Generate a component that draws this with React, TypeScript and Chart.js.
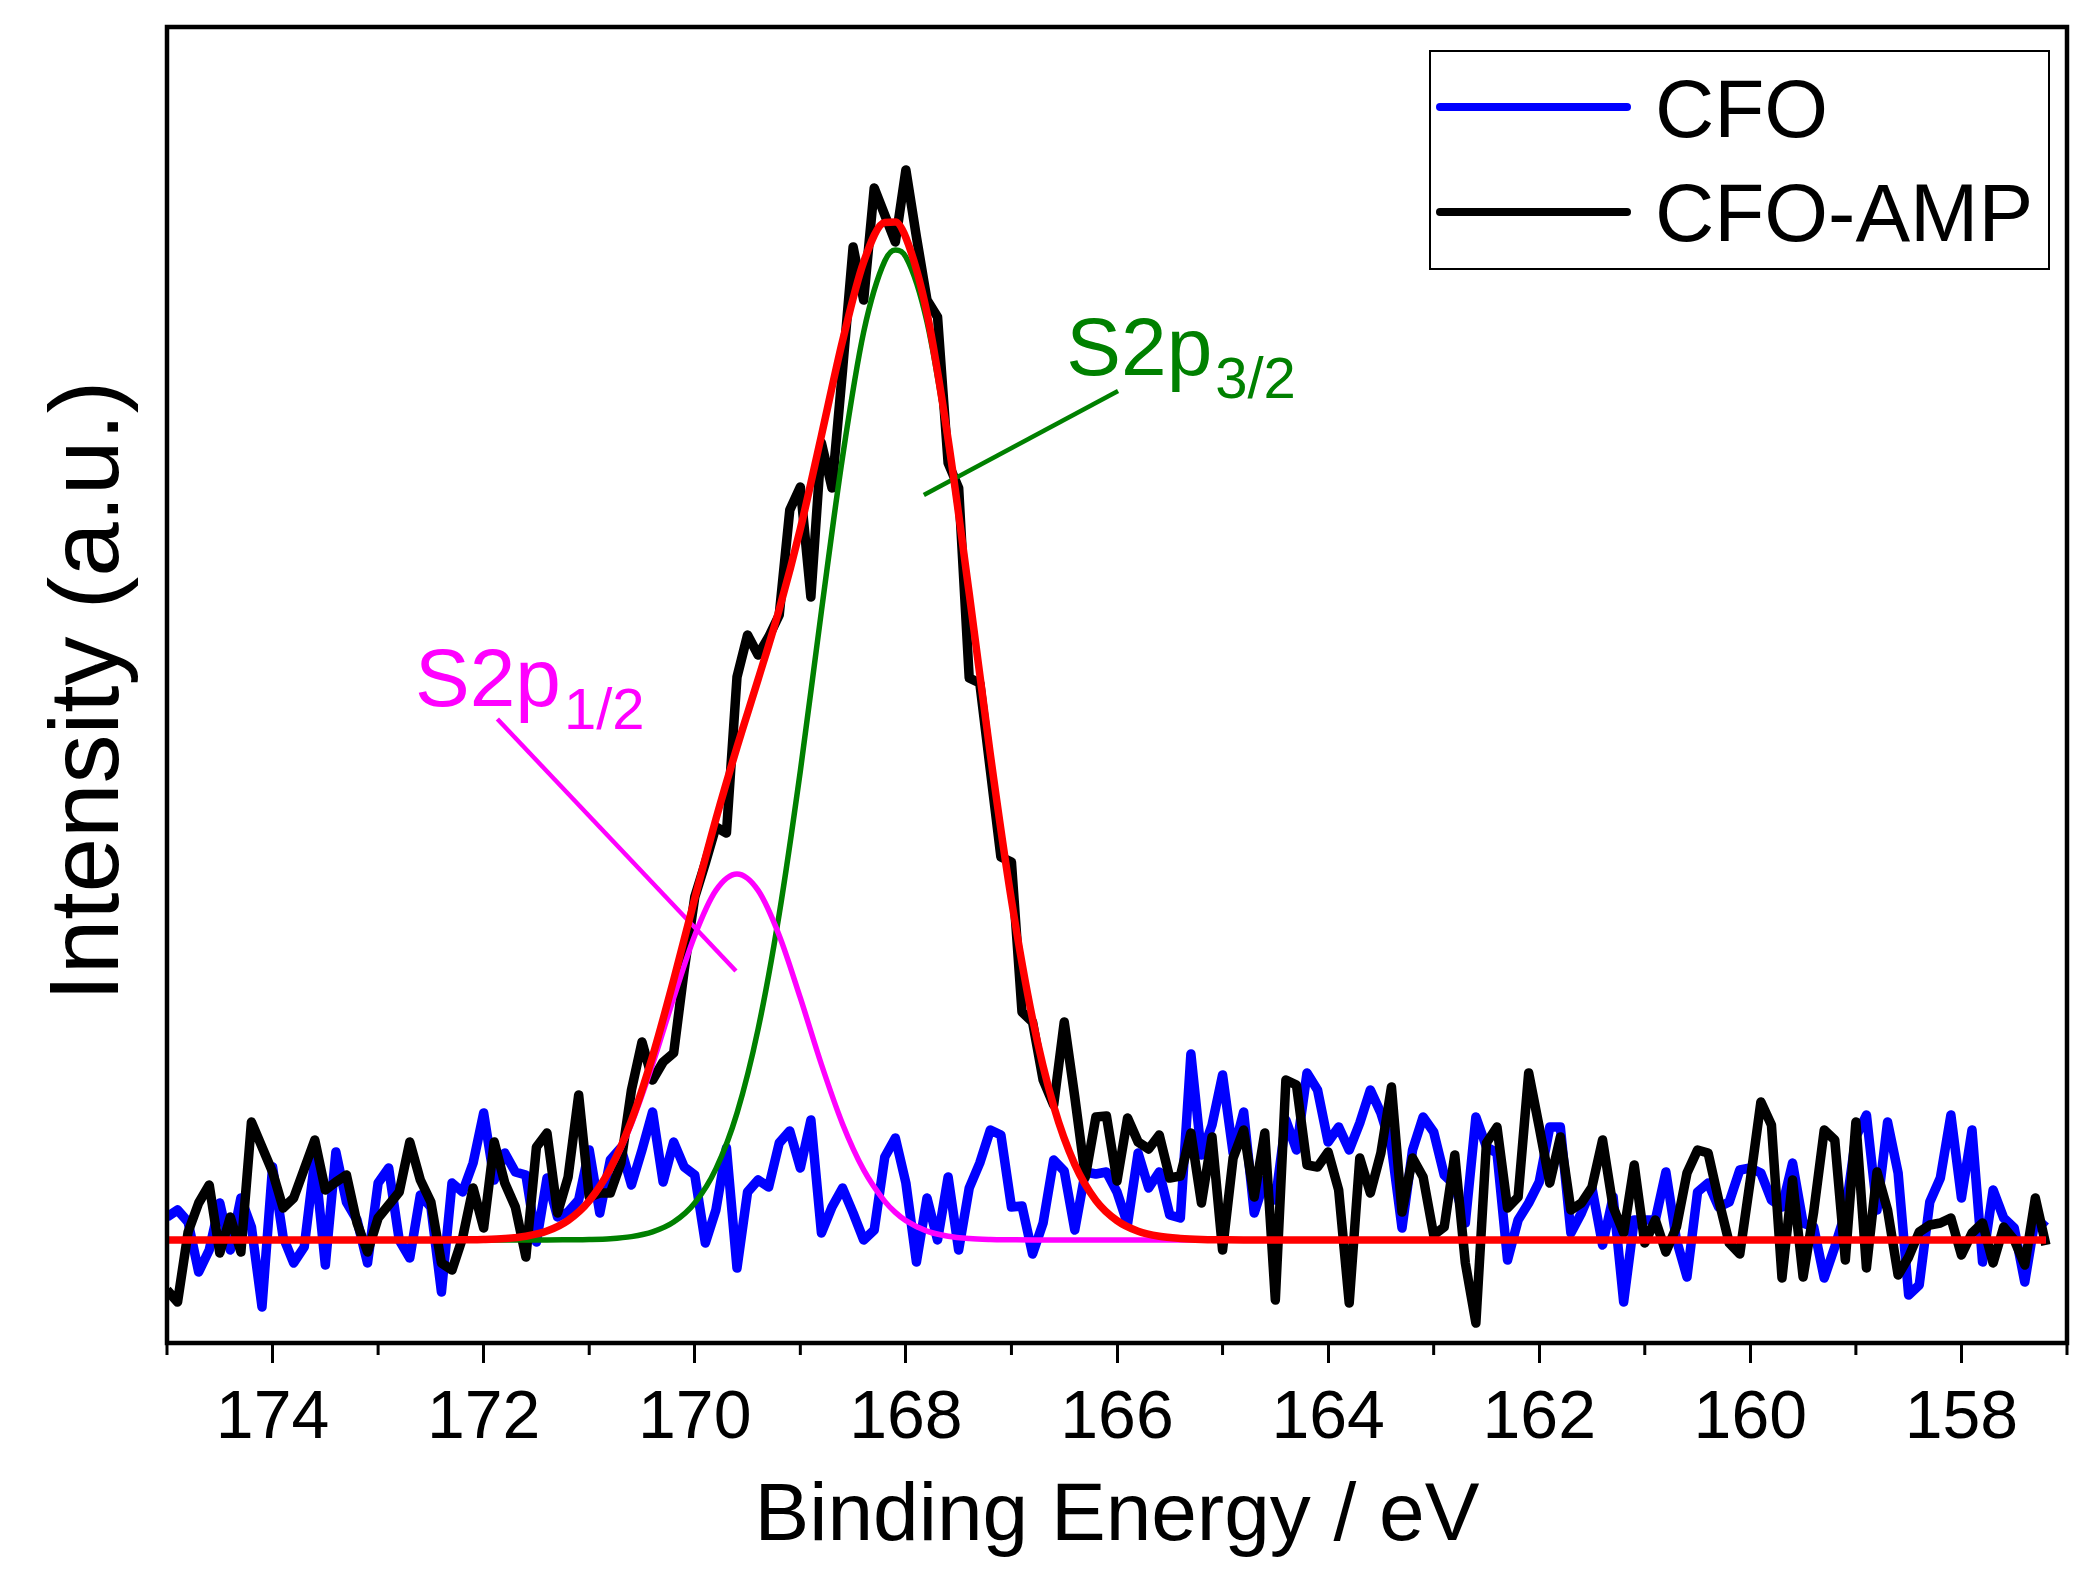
import React, { useEffect, useRef } from "react";
import { Chart, registerables } from "chart.js";

Chart.register(...registerables);

const FONT = 'Arial, "Liberation Sans", Helvetica, sans-serif';

// Binding energy grid of the measured spectra (eV)
const bindingEnergy = [
  175.0, 174.9, 174.8, 174.7, 174.6, 174.5, 174.4, 174.3, 174.2, 174.1,
  174.0, 173.9, 173.8, 173.7, 173.6, 173.5, 173.4, 173.3, 173.2, 173.1,
  173.0, 172.9, 172.8, 172.7, 172.6, 172.5, 172.4, 172.3, 172.2, 172.1,
  172.0, 171.9, 171.8, 171.7, 171.6, 171.5, 171.4, 171.3, 171.2, 171.1,
  171.0, 170.9, 170.8, 170.7, 170.6, 170.5, 170.4, 170.3, 170.2, 170.1,
  170.0, 169.9, 169.8, 169.7, 169.6, 169.5, 169.4, 169.3, 169.2, 169.1,
  169.0, 168.9, 168.8, 168.7, 168.6, 168.5, 168.4, 168.3, 168.2, 168.1,
  168.0, 167.9, 167.8, 167.7, 167.6, 167.5, 167.4, 167.3, 167.2, 167.1,
  167.0, 166.9, 166.8, 166.7, 166.6, 166.5, 166.4, 166.3, 166.2, 166.1,
  166.0, 165.9, 165.8, 165.7, 165.6, 165.5, 165.4, 165.3, 165.2, 165.1,
  165.0, 164.9, 164.8, 164.7, 164.6, 164.5, 164.4, 164.3, 164.2, 164.1,
  164.0, 163.9, 163.8, 163.7, 163.6, 163.5, 163.4, 163.3, 163.2, 163.1,
  163.0, 162.9, 162.8, 162.7, 162.6, 162.5, 162.4, 162.3, 162.2, 162.1,
  162.0, 161.9, 161.8, 161.7, 161.6, 161.5, 161.4, 161.3, 161.2, 161.1,
  161.0, 160.9, 160.8, 160.7, 160.6, 160.5, 160.4, 160.3, 160.2, 160.1,
  160.0, 159.9, 159.8, 159.7, 159.6, 159.5, 159.4, 159.3, 159.2, 159.1,
  159.0, 158.9, 158.8, 158.7, 158.6, 158.5, 158.4, 158.3, 158.2, 158.1,
  158.0, 157.9, 157.8, 157.7, 157.6, 157.5, 157.4, 157.3, 157.2,
];

// CFO (blue) intensity, a.u.
const cfo = [
  2.3, 3.0, 1.8, -3.2, -1.0, 3.7, -1.0, 4.2, 1.3, -6.7,
  7.3, 0.3, -2.3, -0.7, 8.0, -2.5, 8.8, 3.8, 2.0, -2.3,
  5.7, 7.2, 0.0, -1.8, 4.5, 3.3, -5.2, 5.7, 4.8, 7.7,
  12.7, 6.0, 8.7, 6.8, 6.5, -0.2, 6.2, 2.3, 2.8, 4.0,
  9.0, 2.7, 8.0, 9.2, 5.5, 9.0, 12.8, 5.8, 9.8, 7.3,
  6.5, -0.3, 3.0, 9.2, -2.8, 4.8, 6.0, 5.3, 9.7, 10.9,
  7.2, 12.0, 0.7, 3.3, 5.2, 2.7, 0.0, 1.0, 8.3, 10.2,
  5.7, -2.2, 4.2, 0.0, 6.3, -1.0, 5.2, 7.7, 11.0, 10.5,
  3.3, 3.4, -1.4, 1.7, 8.0, 6.9, 1.0, 6.8, 6.6, 6.8,
  4.8, 1.6, 8.7, 5.2, 6.8, 2.5, 2.2, 18.6, 8.5, 11.5,
  16.5, 8.7, 12.8, 2.7, 6.0, 4.0, 12.0, 9.0, 16.7, 15.0,
  9.8, 11.3, 9.0, 11.7, 15.0, 12.7, 9.3, 1.2, 9.0, 12.3,
  10.8, 6.5, 5.5, 1.7, 12.3, 9.3, 8.7, -2.0, 2.0, 3.7,
  5.8, 11.3, 11.3, 0.7, 2.7, 5.2, -0.5, 4.3, -6.2, 2.0,
  2.0, 2.0, 6.8, 0.0, -3.7, 4.8, 5.7, 3.3, 3.8, 7.0,
  7.2, 6.7, 4.0, 3.3, 7.7, 1.7, 1.3, -3.8, -0.7, 2.7,
  10.3, 12.5, 3.0, 11.8, 6.7, -5.5, -4.5, 3.8, 6.2, 12.5,
  4.2, 11.0, -2.2, 5.0, 2.2, 1.2, -4.2, 2.2, 1.3,
];

// CFO-AMP (black) intensity, a.u.
const cfoAmp = [
  -5.0, -6.2, 0.8, 3.7, 5.5, -1.3, 2.3, -1.2, 11.8, 9.3,
  6.8, 3.2, 4.2, 7.1, 10.0, 5.0, 5.8, 6.5, 1.7, -1.2,
  2.2, 3.5, 4.8, 9.8, 6.0, 3.8, -2.3, -3.0, 0.2, 5.2,
  1.2, 9.8, 5.7, 3.3, -1.7, 9.3, 10.7, 2.7, 6.3, 14.5,
  4.3, 4.7, 4.7, 7.7, 15.0, 19.8, 16.0, 17.8, 18.7, 27.0,
  34.3, 37.7, 41.3, 40.7, 56.3, 60.5, 58.5, 60.3, 62.5, 73.0,
  75.3, 64.3, 79.7, 75.2, 87.0, 99.3, 94.0, 105.2, 102.5, 99.8,
  107.0, 100.3, 94.0, 92.3, 77.7, 75.2, 56.2, 55.7, 47.0, 38.3,
  37.8, 22.8, 21.8, 16.0, 13.5, 21.8, 14.3, 6.3, 12.3, 12.4,
  5.9, 12.2, 9.8, 9.1, 10.5, 6.2, 6.4, 10.7, 3.7, 10.3,
  -1.0, 8.2, 11.0, 4.3, 10.7, -6.0, 16.0, 15.5, 7.5, 7.3,
  8.8, 5.0, -6.3, 8.2, 4.7, 8.7, 15.3, 2.8, 8.2, 6.3,
  0.5, 1.3, 8.5, -2.3, -8.3, 9.7, 11.3, 3.2, 4.3, 16.7,
  11.3, 5.7, 10.3, 3.0, 3.7, 5.3, 10.0, 3.3, 0.7, 7.5,
  -0.3, 2.0, -1.2, 1.3, 6.7, 9.0, 8.7, 4.0, -0.3, -1.4,
  6.0, 13.8, 11.5, -3.8, 6.0, -3.7, 2.8, 11.0, 10.0, -2.0,
  11.8, -2.8, 6.8, 3.0, -3.5, -1.7, 0.8, 1.5, 1.7, 2.2,
  -1.5, 0.7, 1.7, -2.3, 1.3, 0.0, -2.5, 4.2, -0.5,
];

// Energy grid of the fitted curves (eV)
const fitEnergy = [
  175.0, 172.4, 172.2, 172.0, 171.8, 171.6, 171.4, 171.2, 171.0, 170.8,
  170.6, 170.4, 170.2, 170.0, 169.8, 169.6, 169.4, 169.2, 169.0, 168.8,
  168.6, 168.4, 168.2, 168.1, 168.0, 167.8, 167.6, 167.4, 167.2, 167.0,
  166.8, 166.6, 166.4, 166.2, 166.0, 165.8, 165.6, 165.4, 165.2, 165.0,
  164.8, 157.2,
];

// Envelope fit (red)
const envelopeFit = [
  0, 0, 0.02, 0.05, 0.14, 0.37, 0.89, 1.96, 3.91, 7.14,
  11.95, 18.36, 26.0, 34.16, 42.07, 49.29, 56.06, 63.06, 71.11, 80.45,
  89.91, 97.81, 101.76, 101.8, 100.24, 92.69, 80.07, 64.64, 48.55, 34.0,
  22.1, 13.4, 7.55, 3.96, 1.94, 0.88, 0.37, 0.15, 0.05, 0.02,
  0, 0,
];

// S2p3/2 component (green)
const s2p32Fit = [
  0, 0, 0, 0, 0, 0, 0, 0.02, 0.05, 0.13,
  0.34, 0.81, 1.79, 3.7, 7.11, 12.69, 21.1, 32.6, 46.9, 62.9,
  78.3, 90.8, 97.9, 99.0, 98.3, 91.8, 79.7, 64.5, 48.5, 34.0,
  22.1, 13.4, 7.55, 3.96, 1.94, 0.88, 0.37, 0.15, 0.05, 0.02,
  0, 0,
];

// S2p1/2 component (magenta)
const s2p12Fit = [
  0, 0, 0.02, 0.05, 0.14, 0.37, 0.89, 1.94, 3.86, 7.01,
  11.61, 17.55, 24.21, 30.46, 34.96, 36.6, 34.96, 30.46, 24.21, 17.55,
  11.61, 7.01, 3.86, 2.76, 1.94, 0.89, 0.37, 0.14, 0.05, 0.02,
  0, 0, 0, 0, 0, 0, 0, 0, 0, 0,
  0, 0,
];

// Leader lines of the peak labels
const s2p32LeaderEnergy = [165.99, 167.83];
const s2p32LeaderIntensity = [84.9, 74.5];
const s2p12LeaderEnergy = [171.87, 169.61];
const s2p12LeaderIntensity = [52.1, 26.9];

// Tick values on the energy axis
const majorTickValues = [174, 172, 170, 168, 166, 164, 162, 160, 158];
const minorTickValues = [175, 173, 171, 169, 167, 165, 163, 161, 159, 157];

const seriesNames = ["CFO", "CFO-AMP"];
const seriesColors = ["#0000FF", "#000000"];

const pts = (xs: number[], ys: number[]) => xs.map((x, i) => ({ x, y: ys[i] }));

const overlayPlugin = {
  id: "overlay",
  afterDraw(chart: any) {
    const { ctx, chartArea: a, scales } = chart;
    const xs = scales.x;
    const ys = scales.y;
    ctx.save();

    // frame
    ctx.strokeStyle = "#000";
    ctx.lineWidth = 4.5;
    ctx.strokeRect(a.left, a.top, a.right - a.left, a.bottom - a.top);

    // minor ticks
    ctx.lineWidth = 3;
    ctx.beginPath();
    for (const v of minorTickValues) {
      const px = xs.getPixelForValue(v);
      ctx.moveTo(px, a.bottom);
      ctx.lineTo(px, a.bottom + 12);
    }
    ctx.stroke();

    // axis titles
    ctx.fillStyle = "#000";
    ctx.textAlign = "center";
    ctx.textBaseline = "alphabetic";
    ctx.font = `82px ${FONT}`;
    ctx.fillText("Binding Energy / eV", (a.left + a.right) / 2, 1540);

    ctx.save();
    ctx.translate(118, (a.top + a.bottom) / 2 + 6);
    ctx.rotate(-Math.PI / 2);
    ctx.font = `98px ${FONT}`;
    ctx.fillText("Intensity (a.u.)", 0, 0);
    ctx.restore();

    // peak labels
    const drawLabel = (main: string, sub: string, e: number, v: number, color: string) => {
      const x = xs.getPixelForValue(e);
      const y = ys.getPixelForValue(v);
      ctx.fillStyle = color;
      ctx.textAlign = "left";
      ctx.font = `82px ${FONT}`;
      ctx.fillText(main, x, y);
      const w = ctx.measureText(main).width;
      ctx.font = `58px ${FONT}`;
      ctx.fillText(sub, x + w + 3, y + 23);
    };
    drawLabel("S2p", "3/2", 166.48, 86.5, "#008000");
    drawLabel("S2p", "1/2", 172.65, 53.4, "#FF00FF");

    // legend
    ctx.lineWidth = 2;
    ctx.strokeStyle = "#000";
    ctx.strokeRect(1430, 51, 619, 218);
    const rows = [
      { y: 107, base: 137 },
      { y: 212, base: 241 },
    ];
    rows.forEach((r, i) => {
      ctx.strokeStyle = seriesColors[i];
      ctx.lineWidth = 8;
      ctx.lineCap = "round";
      ctx.beginPath();
      ctx.moveTo(1440, r.y);
      ctx.lineTo(1627, r.y);
      ctx.stroke();
      ctx.fillStyle = "#000";
      ctx.font = `82px ${FONT}`;
      ctx.textAlign = "left";
      ctx.fillText(seriesNames[i], 1655, r.base);
    });

    ctx.restore();
  },
};

export default function App() {
  const canvasRef = useRef<HTMLCanvasElement | null>(null);

  useEffect(() => {
    const canvas = canvasRef.current;
    if (!canvas) return;
    const line = (data: any[], color: string, width: number, order: number, smooth = false) => ({
      data,
      borderColor: color,
      backgroundColor: color,
      borderWidth: width,
      pointRadius: 0,
      fill: false,
      order,
      tension: smooth ? 0.4 : 0,
      cubicInterpolationMode: smooth ? "monotone" : "default",
      borderJoinStyle: "round",
      borderCapStyle: "butt",
    });

    const chart = new Chart(canvas, {
      type: "line",
      data: {
        datasets: [
          { label: seriesNames[0], ...line(pts(bindingEnergy, cfo), seriesColors[0], 9.5, 7) },
          { label: seriesNames[1], ...line(pts(bindingEnergy, cfoAmp), seriesColors[1], 9.5, 6) },
          { label: "S2p3/2", ...line(pts(fitEnergy, s2p32Fit), "#008000", 5.5, 5, true) },
          { label: "S2p1/2", ...line(pts(fitEnergy, s2p12Fit), "#FF00FF", 5.5, 4, true) },
          { label: "lead32", ...line(pts(s2p32LeaderEnergy, s2p32LeaderIntensity), "#008000", 4.5, 3) },
          { label: "lead12", ...line(pts(s2p12LeaderEnergy, s2p12LeaderIntensity), "#FF00FF", 4.5, 2) },
          { label: "Envelope", ...line(pts(fitEnergy, envelopeFit), "#FF0000", 7.5, 1, true) },
        ] as any,
      },
      options: {
        animation: false,
        responsive: false,
        maintainAspectRatio: false,
        devicePixelRatio: 1,
        layout: { padding: { left: 167, top: 27, right: 32, bottom: 0 } },
        plugins: {
          legend: { display: false },
          tooltip: { enabled: false },
          title: { display: false },
        },
        scales: {
          x: {
            type: "linear",
            reverse: true,
            min: 157,
            max: 175,
            border: { display: false },
            grid: {
              display: true,
              drawOnChartArea: false,
              drawTicks: true,
              tickLength: 20,
              tickWidth: 3,
              tickColor: "#000",
            },
            afterBuildTicks: (scale: any) => {
              scale.ticks = majorTickValues.map((value) => ({ value }));
            },
            ticks: {
              autoSkip: false,
              maxRotation: 0,
              color: "#000",
              padding: 15,
              font: { family: FONT, size: 68 },
            },
            afterFit: (scale: any) => {
              scale.height = 250;
              scale.paddingLeft = 0;
              scale.paddingRight = 0;
            },
          },
          y: {
            type: "linear",
            display: false,
            min: -10.3,
            max: 121.3,
          },
        },
      } as any,
      plugins: [overlayPlugin],
    });
    return () => chart.destroy();
  }, []);

  return (
    <div style={{ position: "fixed", left: 0, top: 0, width: 2099, height: 1593, background: "#fff" }}>
      <canvas ref={canvasRef} width={2099} height={1593} style={{ display: "block" }} />
    </div>
  );
}
